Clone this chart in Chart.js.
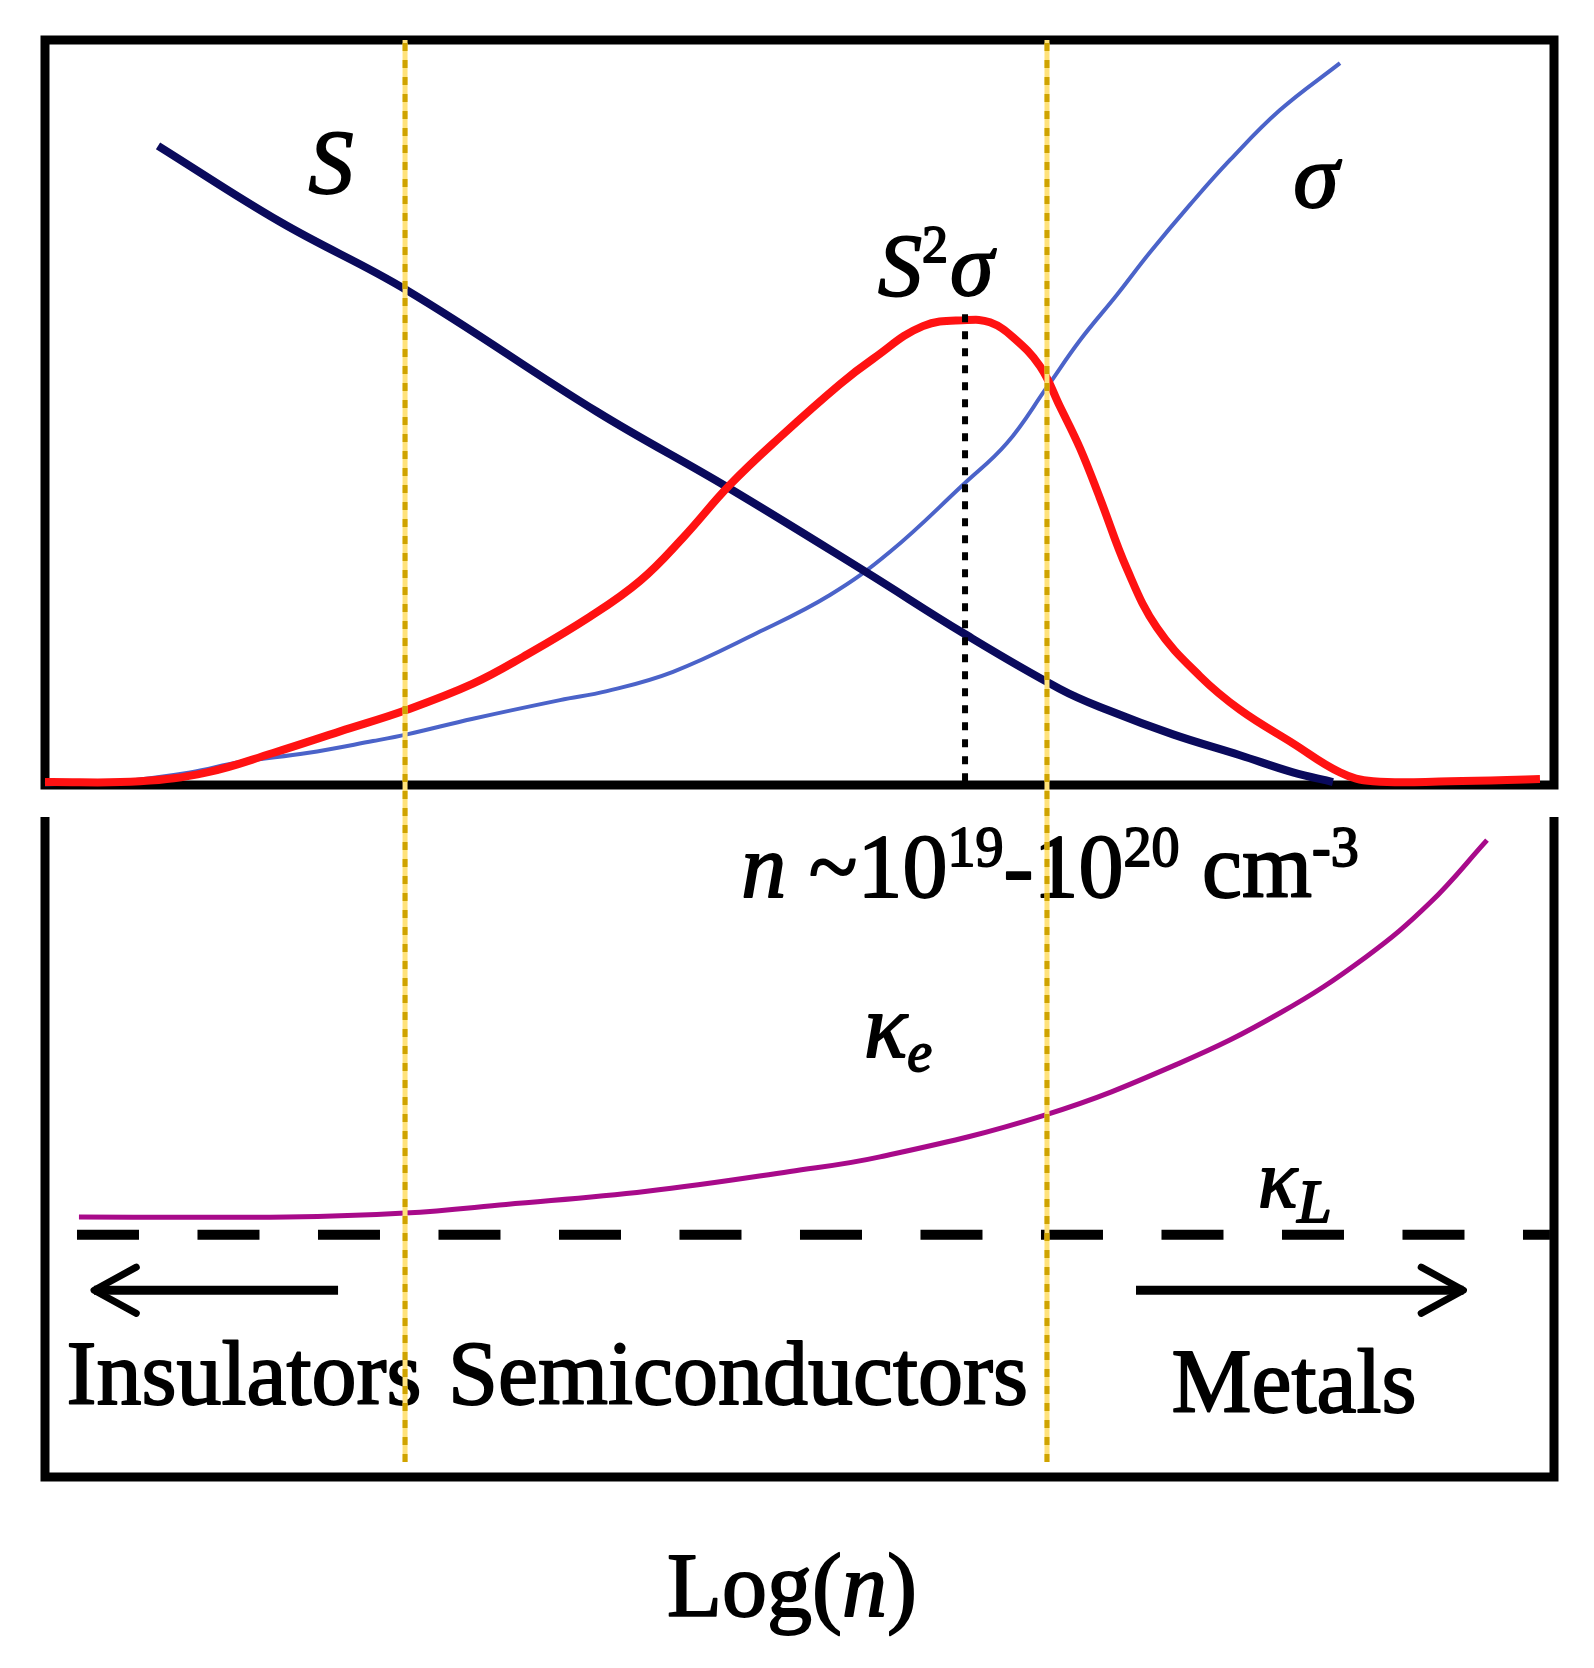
<!DOCTYPE html>
<html><head><meta charset="utf-8">
<script src="https://cdn.jsdelivr.net/npm/chart.js@4.4.0/dist/chart.umd.min.js"></script>
<style>html,body{margin:0;padding:0;background:#fff;}canvas{display:block;}</style>
</head><body>
<canvas id="c" width="1594" height="1668"></canvas>
<script>
// ---- DATA (x: Log(n) in arbitrary units 0..100; y: arbitrary units) ----
// Top panel: Seebeck coefficient S
const seebeckX = [7.49, 15.57, 23.99, 36.58, 45.20, 54.47, 60.84, 67.26, 70.38, 74.75, 79.19, 82.70, 85.35];
const seebeckY = [85.8, 75.6, 66.4, 50.1, 40.0, 28.5, 20.4, 12.9, 10.1, 6.8, 4.0, 1.7, 0.4];
// Top panel: power factor S^2 sigma
const powerX = [0, 6.30, 10.74, 15.11, 19.55, 23.99, 28.36, 31.68, 36.12, 39.43, 42.28, 45.39, 48.71, 52.68, 54.87, 58.18, 61.10, 62.62, 64.15, 65.94, 67.26, 68.59, 69.91, 71.70, 73.69, 76.54, 79.19, 82.70, 85.82, 88.01, 93.11, 99.07];
const powerY = [0.4, 0.5, 1.7, 4.3, 7.2, 10.1, 13.6, 17.2, 22.6, 27.4, 33.2, 40.3, 46.7, 53.8, 57.2, 61.6, 62.4, 62.1, 60.1, 56.2, 50.8, 45.2, 38.5, 29.0, 21.1, 14.6, 10.1, 5.6, 1.7, 0.5, 0.5, 0.8];
// Top panel: electrical conductivity sigma
const sigmaX = [0, 4.97, 9.61, 12.92, 17.36, 21.74, 23.99, 28.36, 34.13, 37.24, 41.62, 47.18, 52.02, 56.00, 60.84, 63.75, 66.40, 68.59, 71.04, 73.23, 75.88, 78.53, 81.84, 85.82];
const sigmaY = [0.1, 0.5, 1.7, 3.1, 4.3, 5.9, 6.8, 8.9, 11.4, 12.6, 15.2, 20.4, 25.5, 31.3, 40.3, 45.9, 53.4, 59.7, 65.8, 71.5, 77.9, 83.9, 90.6, 96.9];
const optimumX = 60.97;            // n ~ 10^19-10^20 cm^-3
const optimumYRange = [0.5, 63.5];
// Bottom panel: electronic and lattice thermal conductivity
const kappaEX = [2.25, 16.04, 23.86, 30.55, 39.89, 49.37, 55.33, 66.20, 75.08, 81.84, 87.54, 91.78, 95.56];
const kappaEY = [39.4, 39.4, 40.0, 41.3, 43.3, 46.3, 48.5, 54.8, 62.6, 70.3, 78.8, 87.0, 96.5];
const kappaLX = [2.12, 99.73];
const kappaLY = [36.7, 36.7];
// Region boundaries (insulators | semiconductors | metals)
const regionBounds = [23.86, 66.40];
const regionYRange = [2.27, 217.73];
// Arrows
const arrowY = 28.3;
const leftArrowX = [19.42, 3.25];
const rightArrowX = [72.3, 94.0];
// Text
const regionLabels = ['Insulators', 'Semiconductors', 'Metals'];
const axisTitle = ['Log(', 'n', ')'];

// ---- helpers ----
const pts = (xs, ys) => xs.map((x, i) => ({x, y: ys[i]}));
const SERIF = '"Liberation Serif","Times New Roman",serif';
const HEAD_DX = 2.8, HEAD_DY = 3.5;
const arrowHead = (tip, dir) => [
  {x: tip - dir * HEAD_DX, y: arrowY + HEAD_DY},
  {x: tip, y: arrowY},
  {x: tip - dir * HEAD_DX, y: arrowY - HEAD_DY}
];

const base = {pointRadius: 0, fill: false, clip: false, tension: 0};
const curve = {...base, tension: 0.4};
const ds = [];
regionBounds.forEach(b => {
  ds.push({...base, data: pts([b, b], regionYRange), yAxisID: 'yBot', borderColor: '#cfa300', borderWidth: 5, borderDash: [8, 9], order: 0});
  ds.push({...base, data: pts([b, b], regionYRange), yAxisID: 'yBot', borderColor: '#ffe27a', borderWidth: 5, order: 1});
});
ds.push({...base, data: pts([optimumX, optimumX], optimumYRange), yAxisID: 'yTop', borderColor: '#000', borderWidth: 6, borderDash: [8, 9], order: 2});
ds.push({...curve, data: pts(sigmaX, sigmaY), yAxisID: 'yTop', borderColor: '#4b63c9', borderWidth: 4, order: 5});
ds.push({...curve, data: pts(seebeckX, seebeckY), yAxisID: 'yTop', borderColor: '#0a0a5c', borderWidth: 8, order: 4});
ds.push({...curve, data: pts(powerX, powerY), yAxisID: 'yTop', borderColor: '#ff1212', borderWidth: 8, order: 3});
ds.push({...curve, data: pts(kappaEX, kappaEY), yAxisID: 'yBot', borderColor: '#a80a8a', borderWidth: 5, order: 3});
ds.push({...base, data: pts(kappaLX, kappaLY), yAxisID: 'yBot', borderColor: '#000', borderWidth: 10, borderDash: [62, 58.5], order: 3});
[[leftArrowX, -1], [rightArrowX, 1]].forEach(([ax, dir]) => {
  ds.push({...base, data: pts(ax, [arrowY, arrowY]), yAxisID: 'yBot', borderColor: '#000', borderWidth: 9, order: 3});
  ds.push({...base, data: arrowHead(ax[1], dir), yAxisID: 'yBot', borderColor: '#000', borderWidth: 7, borderJoinStyle: 'round', borderCapStyle: 'round', order: 3});
});
// panel frames
ds.push({...base, data: [{x:50,y:0},{x:100,y:0},{x:100,y:100},{x:0,y:100},{x:0,y:0},{x:50,y:0}], yAxisID: 'yTop', borderColor: '#000', borderWidth: 9, borderJoinStyle: 'miter', order: 6});
ds.push({...base, data: [{x:0,y:100},{x:0,y:0},{x:100,y:0},{x:100,y:100}], yAxisID: 'yBot', borderColor: '#000', borderWidth: 9, borderJoinStyle: 'miter', order: 6});

function drawRuns(ctx, x, y, runs, align) {
  let total = 0;
  runs.forEach(r => { ctx.font = r.font; r.w = ctx.measureText(r.t).width; total += r.w + (r.dx || 0); });
  let cx = align === 'center' ? x - total / 2 : x;
  runs.forEach(r => {
    ctx.font = r.font; cx += (r.dx || 0);
    ctx.strokeText(r.t, cx, y + (r.dy || 0));
    ctx.fillText(r.t, cx, y + (r.dy || 0));
    cx += r.w;
  });
}
const F = (size, it) => `${it ? 'italic ' : ''}${size}px ${SERIF}`;

const textPlugin = {
  id: 'texts',
  beforeDatasetsDraw(chart) {
    const ctx = chart.ctx;
    ctx.save();
    ctx.fillStyle = '#000';
    ctx.strokeStyle = '#000';
    ctx.lineWidth = 1.8;
    ctx.lineJoin = 'round';
    ctx.textBaseline = 'alphabetic';
    ctx.textAlign = 'left';
    drawRuns(ctx, 331, 193, [{t: 'S', font: F(90, true)}], 'center');
    drawRuns(ctx, 1316, 207, [{t: 'σ', font: F(92, true)}], 'center');
    drawRuns(ctx, 878, 295, [{t: 'S', font: F(88, true)}, {t: '2', font: F(52), dy: -33}, {t: 'σ', font: F(88, true), dx: 2}], 'left');
    drawRuns(ctx, 1050, 897, [
      {t: 'n', font: F(90, true)}, {t: ' ~10', font: F(90)}, {t: '19', font: F(56), dy: -31},
      {t: '-10', font: F(90)}, {t: '20', font: F(56), dy: -31}, {t: ' cm', font: F(90)}, {t: '-3', font: F(56), dy: -31}
    ], 'center');
    drawRuns(ctx, 864, 1057, [{t: 'κ', font: F(90, true)}, {t: 'e', font: F(56, true), dy: 14}], 'left');
    drawRuns(ctx, 1258, 1207, [{t: 'κ', font: F(82, true)}, {t: 'L', font: F(62, true), dy: 15}], 'left');
    drawRuns(ctx, 244, 1404, [{t: regionLabels[0], font: F(90)}], 'center');
    drawRuns(ctx, 738, 1404, [{t: regionLabels[1], font: F(90)}], 'center');
    drawRuns(ctx, 1294, 1412, [{t: regionLabels[2], font: F(90)}], 'center');
    drawRuns(ctx, 792, 1616, [{t: axisTitle[0], font: F(90)}, {t: axisTitle[1], font: F(90, true)}, {t: axisTitle[2], font: F(90)}], 'center');
    ctx.restore();
  }
};

new Chart(document.getElementById('c'), {
  type: 'line',
  data: {datasets: ds},
  options: {
    responsive: false, animation: false, devicePixelRatio: 1,
    layout: {padding: {left: 45, right: 40, top: 40, bottom: 191}},
    plugins: {legend: {display: false}, tooltip: {enabled: false}},
    scales: {
      x: {type: 'linear', min: 0, max: 100, display: false},
      yTop: {type: 'linear', min: -92.88, max: 100, display: false},
      yBot: {type: 'linear', min: 0, max: 217.73, display: false}
    }
  },
  plugins: [textPlugin]
});
</script>
</body></html>
